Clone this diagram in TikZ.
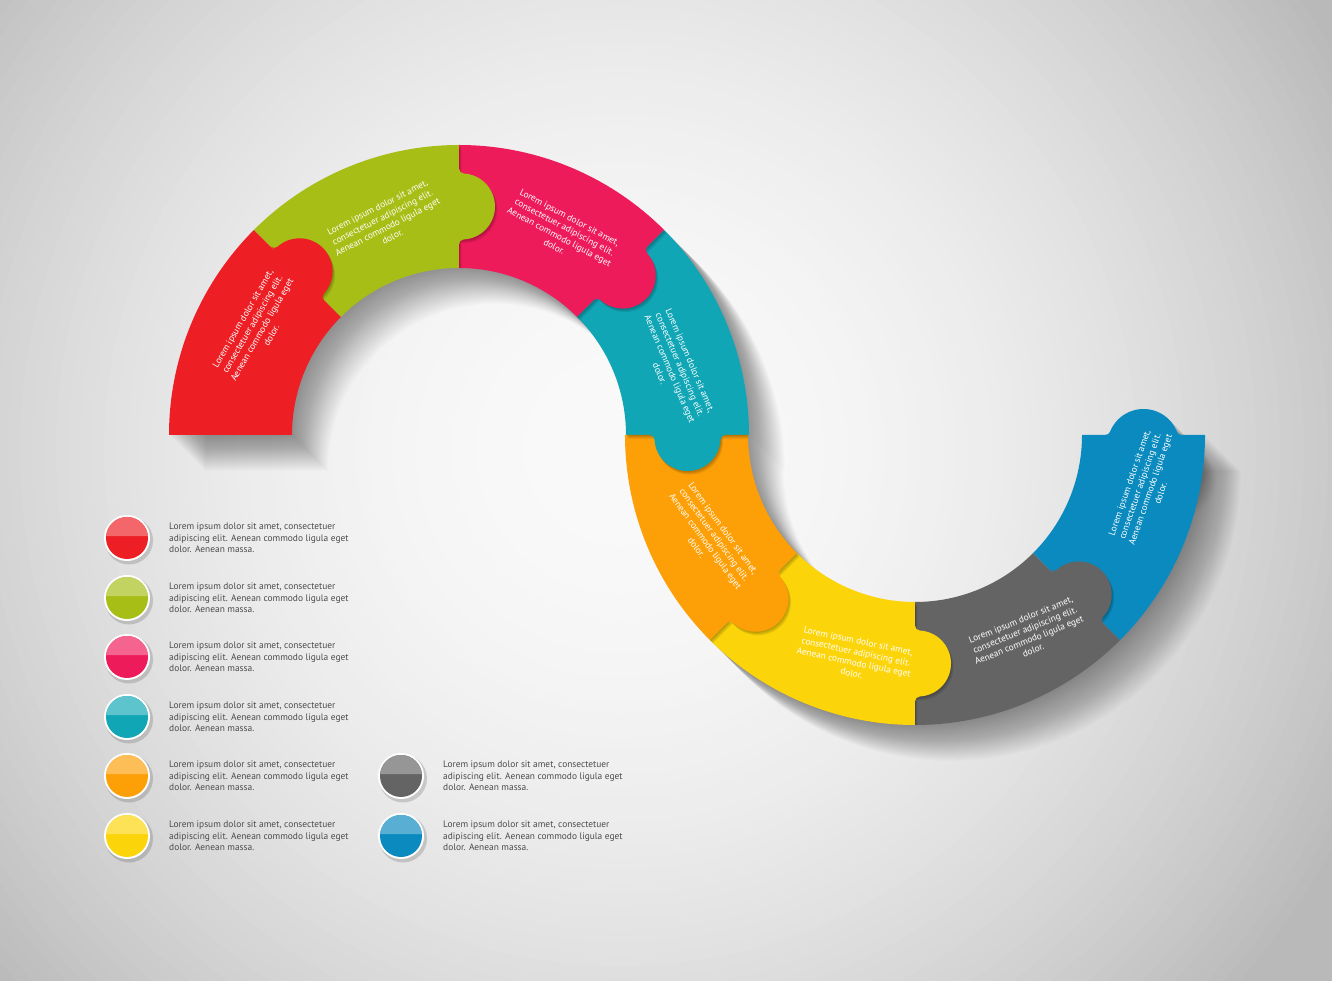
\documentclass[tikz,border=0pt]{standalone}
\usepackage{fontspec}
\setmainfont{PT Sans}
\definecolor{cRed}{RGB}{237,30,36}
\definecolor{cGreen}{RGB}{166,190,22}
\definecolor{cPink}{RGB}{238,27,90}
\definecolor{cCyan}{RGB}{17,166,182}
\definecolor{cOrange}{RGB}{253,160,8}
\definecolor{cYellow}{RGB}{252,212,10}
\definecolor{cGray}{RGB}{100,100,100}
\definecolor{cBlue}{RGB}{10,138,190}
\definecolor{legtxt}{RGB}{75,75,75}
\definecolor{bgedge}{RGB}{185,185,185}
% ring sector (used with a shift to the ring centre)
\newcommand\secq[2]{(#1:290) arc[start angle=#1, end angle=#2, radius=290] -- (#2:167) arc[start angle=#2, end angle=#1, radius=167] -- cycle}
% knob between two pieces (local frame: boundary on x axis, knob towards +y)
\newcommand\knobA{(0,3) circle[radius=33]
  (32.86,0) -- (37.95,0) arc[start angle=270, end angle=183, radius=5] arc[start angle=3.02, end angle=-5.22, radius=33] -- cycle
  (-32.86,0) -- (-37.95,0) arc[start angle=270, end angle=357, radius=5] arc[start angle=176.98, end angle=185.22, radius=33] -- cycle}
% knob at the free end
\newcommand\knobB{(0,-10) circle[radius=36]
  (34.58,0) -- (38.16,0) arc[start angle=270, end angle=201.46, radius=5] arc[start angle=21.46, end angle=16.13, radius=36] -- cycle
  (-34.58,0) -- (-38.16,0) arc[start angle=270, end angle=338.54, radius=5] arc[start angle=158.54, end angle=163.87, radius=36] -- cycle}
% shadow cast by one piece onto the next one
\newcommand\castsh[8]{%
 \begin{scope}
  \clip[#1] \secq{#2}{#3};
  \foreach \s in {1,2,3}{
    \fill[black,opacity=0.09,#4,shift={(\s*0.8,-\s*1.2)}] \secq{#5}{#6};
    \fill[black,opacity=0.09,#4,shift={(\s*0.8,-\s*1.2)},shift={(#7:228.5)},rotate=#8] (0,3) circle[radius=33];
  }
 \end{scope}}
\newcommand\legdot[3]{%
  \fill[black,opacity=0.15] (#1+2,#2-2.5) circle[radius=24];
  \fill[white] (#1,#2) circle[radius=23];
  \fill[#3] (#1,#2) circle[radius=21];
  \fill[#3!68!white] (#1,#2) ++(175:21) arc[start angle=175,end angle=5,radius=21] -- cycle;
}
\begin{document}
\begin{tikzpicture}[x=1pt,y=1pt,
  ringA/.style={shift={(459,545)}},
  ringB/.style={shift={(915,545)}},
  segtext/.style={text=white, align=center, font=\fontsize{9.3}{11}\selectfont, inner sep=0pt},
  legtext/.style={text=legtxt, align=left, anchor=west, font=\fontsize{9.4}{11.5}\selectfont, inner sep=0pt}]
\useasboundingbox (0,0) rectangle (1332,980);
% background
\begin{scope}
  \clip (0,0) rectangle (1332,980);
  \fill[bgedge] (0,0) rectangle (1332,980);
  \foreach \i in {80,...,1}{
    \pgfmathtruncatemacro\g{max(185,250-60*(\i*12/800)^2)}
    \definecolor{bgc}{RGB}{\g,\g,\g}
    \fill[bgc] (620,530) circle[radius=\i*12];
  }
\end{scope}
% long soft shadow of the whole band
\foreach \k in {1,...,36}{
  \fill[black,opacity=0.011,ringA,shift={(\k,-\k)}] \secq{180}{0};
  \fill[black,opacity=0.011,ringB,shift={(\k,-\k)}] \secq{180}{360};
  \fill[black,opacity=0.011,ringB,shift={(\k,-\k)},shift={(0:228.5)}] (0,-10) circle[radius=36];
}
% pieces
\fill[cRed,ringA]    \secq{180}{135};
\fill[cGreen,ringA]  \secq{135}{90};
\fill[cPink,ringA]   \secq{90}{45};
\fill[cCyan,ringA]   \secq{45}{0};
\fill[cOrange,ringB] \secq{180}{225};
\fill[cYellow,ringB] \secq{225}{270};
\fill[cGray,ringB]   \secq{270}{315};
\fill[cBlue,ringB]   \secq{315}{360};
% knobs with their shadows
\castsh{ringA}{135}{90}{ringA}{180}{135}{135}{-45}
\fill[cRed,ringA,shift={(135:228.5)},rotate=-45] \knobA;
\castsh{ringA}{90}{45}{ringA}{135}{90}{90}{-90}
\fill[cGreen,ringA,shift={(90:228.5)},rotate=-90] \knobA;
\castsh{ringA}{45}{0}{ringA}{90}{45}{45}{-135}
\fill[cPink,ringA,shift={(45:228.5)},rotate=-135] \knobA;
\castsh{ringB}{180}{225}{ringA}{45}{0}{0}{-180}
\fill[cCyan,ringA,shift={(0:228.5)},rotate=-180] \knobA;
\castsh{ringB}{225}{270}{ringB}{180}{225}{225}{225}
\fill[cOrange,ringB,shift={(225:228.5)},rotate=225] \knobA;
\castsh{ringB}{270}{315}{ringB}{225}{270}{270}{-90}
\fill[cYellow,ringB,shift={(270:228.5)},rotate=-90] \knobA;
\castsh{ringB}{315}{360}{ringB}{270}{315}{315}{-45}
\fill[cGray,ringB,shift={(315:228.5)},rotate=-45] \knobA;
\fill[cBlue,ringB,shift={(0:228.5)}] \knobB;
% texts on the pieces
\node[segtext,rotate=60]  (t1) at (257,653) {Lorem ipsum dolor sit amet,\\consectetuer adipiscing elit.\\Aenean commodo ligula eget\\dolor.};
\node[segtext,rotate=27]  (t2) at (385,758) {Lorem ipsum dolor sit amet,\\consectetuer adipiscing elit.\\Aenean commodo ligula eget\\dolor.};
\node[segtext,rotate=-28] (t3) at (562,748) {Lorem ipsum dolor sit amet,\\consectetuer adipiscing elit.\\Aenean commodo ligula eget\\dolor.};
\node[segtext,rotate=-67] (t4) at (675,613) {Lorem ipsum dolor sit amet,\\consectetuer adipiscing elit.\\Aenean commodo ligula eget\\dolor.};
\node[segtext,rotate=-54] (t5) at (710,442) {Lorem ipsum dolor sit amet,\\consectetuer adipiscing elit.\\Aenean commodo ligula eget\\dolor.};
\node[segtext,rotate=-12] (t6) at (855,323) {Lorem ipsum dolor sit amet,\\consectetuer adipiscing elit.\\Aenean commodo ligula eget\\dolor.};
\node[segtext,rotate=22]  (t7) at (1027,345) {Lorem ipsum dolor sit amet,\\consectetuer adipiscing elit.\\Aenean commodo ligula eget\\dolor.};
\node[segtext,rotate=71]  (t8) at (1145,492) {Lorem ipsum dolor sit amet,\\consectetuer adipiscing elit.\\Aenean commodo ligula eget\\dolor.};
% legend
\legdot{127}{442}{cRed}
\legdot{127}{382}{cGreen}
\legdot{127}{323}{cPink}
\legdot{127}{263}{cCyan}
\legdot{127}{204}{cOrange}
\legdot{127}{144}{cYellow}
\legdot{401}{204}{cGray}
\legdot{401}{144}{cBlue}
\node[legtext] (l1) at (169,442) {Lorem ipsum dolor sit amet, consectetuer\\adipiscing elit. Aenean commodo ligula eget\\dolor. Aenean massa.};
\node[legtext] (l2) at (169,382) {Lorem ipsum dolor sit amet, consectetuer\\adipiscing elit. Aenean commodo ligula eget\\dolor. Aenean massa.};
\node[legtext] (l3) at (169,323) {Lorem ipsum dolor sit amet, consectetuer\\adipiscing elit. Aenean commodo ligula eget\\dolor. Aenean massa.};
\node[legtext] (l4) at (169,263) {Lorem ipsum dolor sit amet, consectetuer\\adipiscing elit. Aenean commodo ligula eget\\dolor. Aenean massa.};
\node[legtext] (l5) at (169,204) {Lorem ipsum dolor sit amet, consectetuer\\adipiscing elit. Aenean commodo ligula eget\\dolor. Aenean massa.};
\node[legtext] (l6) at (169,144) {Lorem ipsum dolor sit amet, consectetuer\\adipiscing elit. Aenean commodo ligula eget\\dolor. Aenean massa.};
\node[legtext] (l7) at (443,204) {Lorem ipsum dolor sit amet, consectetuer\\adipiscing elit. Aenean commodo ligula eget\\dolor. Aenean massa.};
\node[legtext] (l8) at (443,144) {Lorem ipsum dolor sit amet, consectetuer\\adipiscing elit. Aenean commodo ligula eget\\dolor. Aenean massa.};
\end{tikzpicture}
\end{document}
